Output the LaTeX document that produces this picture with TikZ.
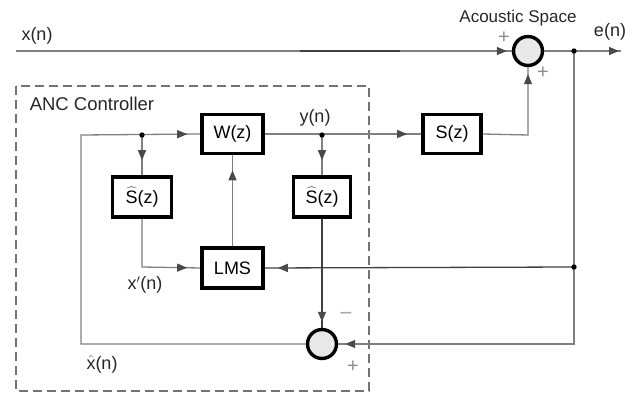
\documentclass[tikz,border=0pt]{standalone}
\usepackage{fontspec}
\setmainfont{Liberation Sans}
\usetikzlibrary{arrows.meta,decorations.markings}
\definecolor{lngray}{HTML}{808080}
\definecolor{lndark}{HTML}{404040}
\definecolor{tipgray}{HTML}{4A4A4A}
\definecolor{sumfill}{HTML}{E8E8E8}
\tikzset{
  tipa/.tip={Triangle[length=10pt,width=8pt]},
  ln/.style={draw=lngray,line width=1.3pt},
  dk/.style={draw=lndark,line width=1.3pt},
  arrowat/.style={postaction={decorate,decoration={markings,
      mark=at position -#1 with {\arrow[color=tipgray]{tipa}}}}},
  blk/.style={draw=black,line width=3.6pt,fill=white,inner sep=0pt,
      minimum width=61pt,minimum height=39pt,font=\fontsize{18}{20}\selectfont},
  sumnode/.style={circle,draw=black,line width=3.4pt,fill=sumfill,
      minimum size=29pt,inner sep=0pt},
  lbl/.style={inner sep=0pt,text=black!85,font=\fontsize{18}{20}\selectfont},
  sgn/.style={inner sep=0pt,text=black!45,font=\fontsize{20}{22}\selectfont},
  dotc/.style={fill=black}
}
\begin{document}
\begin{tikzpicture}[x=1pt,y=-1pt]
\useasboundingbox (0,0) rectangle (641,393);
% dashed controller frame
\draw[draw=black!55,line width=1.6pt,dash pattern=on 9pt off 5pt] (16,86) rectangle (369,391);
% blocks
\node[blk] (W) at (232.5,134) {W(z)};
\node[blk,minimum width=58pt,minimum height=39pt] (S) at (452,134) {S(z)};
\node[blk,minimum width=59pt,minimum height=40pt] (Sl) at (142,197) {$\widehat{\mbox{S}}$(z)};
\node[blk,minimum width=57pt,minimum height=40pt] (Sr) at (322,197) {$\widehat{\mbox{S}}$(z)};
\node[blk,minimum height=40pt] (LMS) at (232.5,268) {LMS};
\node[sumnode] (c1) at (528,51) {};
\node[sumnode] (c2) at (322,344) {};
% coordinates
\coordinate (xin) at (16,51);
\coordinate (xmid1) at (300,51);
\coordinate (xmid2) at (400,51);
\coordinate (eout) at (621,51);
\coordinate (d1) at (142,135);
\coordinate (d2) at (322,135);
\coordinate (d3) at (574,51);
\coordinate (d4) at (574,267);
\coordinate (lx) at (81,135);
\coordinate (lb) at (81,344);
\coordinate (rb) at (574,344);
\coordinate (xc) at (142,267);
\coordinate (sc) at (528,135);
% connectors
\draw[ln,arrowat=5pt] (xin) -- (c1.west);
\draw[dk] (xmid1) -- (xmid2);
\draw[ln,arrowat=2pt] (c1.east) -- (eout);
\draw[ln,arrowat=7pt] (d3) -- (rb) -- (c2.east);
\draw[dk,arrowat=13pt] (d4) -- (LMS.east);
\draw[ln,arrowat=13pt] (c2.west) -- (lb) -- (lx) -- (W.west);
\draw[ln,arrowat=15pt] (d1) -- (Sl.north);
\draw[ln,arrowat=13pt] (Sl.south) -- (xc) -- (LMS.west);
\draw[ln,arrowat=15pt] (LMS.north) -- (W.south);
\draw[ln,arrowat=14pt] (W.east) -- (S.west);
\draw[ln,arrowat=15pt] (d2) -- (Sr.north);
\draw[dk,arrowat=6pt] (Sr.south) -- (c2.north);
\draw[ln,arrowat=7pt] (S.east) -- (sc) -- (c1.south);
% junction dots
\fill[dotc] (d1) circle (2.7pt);
\fill[dotc] (d2) circle (2.7pt);
\fill[dotc] (d3) circle (2.7pt);
\fill[dotc] (d4) circle (2.7pt);
% labels
\node[lbl] (lx1) at (37,36) {x(n)};
\node[lbl,font=\fontsize{17}{19}\selectfont] (lac) at (518,18) {Acoustic Space};
\node[lbl] (len) at (610,32) {e(n)};
\node[lbl,font=\fontsize{18.5}{20}\selectfont] (lanc) at (92,104) {ANC Controller};
\node[lbl] (lyn) at (315,118) {y(n)};
\node[lbl] (lxp) at (145,285) {x$'$(n)};
\node[lbl] (lxh) at (102,364) {$\hat{\mbox{x}}$(n)};
\node[sgn] (p1) at (504,38) {+};
\node[sgn] (p2) at (543,73) {+};
\node[sgn,text=black!35,font=\fontsize{22}{22}\selectfont] (m1) at (346,316) {−};
\node[sgn] (p3) at (353,367) {+};
\end{tikzpicture}
\end{document}
